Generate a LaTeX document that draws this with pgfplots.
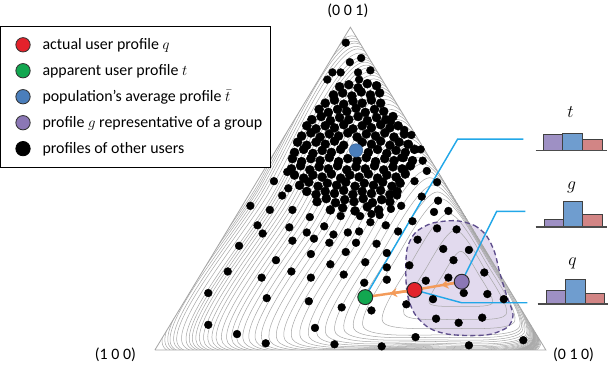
\documentclass[border=0pt]{standalone}
\usepackage{pgfplots}
\pgfplotsset{compat=1.18}
\usepackage{fontspec}
\setmainfont{Carlito}
\usetikzlibrary{arrows.meta}
\definecolor{cred}{HTML}{E3222B}
\definecolor{cgreen}{HTML}{12A750}
\definecolor{cblue}{HTML}{4A7EBB}
\definecolor{cpurple}{HTML}{8B77B5}
\definecolor{blobfill}{HTML}{E2DAEE}
\definecolor{blobline}{HTML}{5E4E8C}
\definecolor{contour}{HTML}{A8A8A8}
\definecolor{leader}{HTML}{22A7E8}
\definecolor{corange}{HTML}{F39B5A}
\definecolor{barP}{HTML}{9E90C4}
\definecolor{barB}{HTML}{6F9DCF}
\definecolor{barR}{HTML}{D28585}
\begin{document}
\begin{tikzpicture}
\begin{axis}[
  width=609pt, height=365pt, scale only axis,
  xmin=0, xmax=609, ymin=0, ymax=365, y dir=reverse,
  axis lines=none, clip=false,
  legend cell align=left,
  legend style={at={(0.0263,0.9137)}, anchor=north west, draw=black, line width=0.9pt, fill=white,
    font=\fontsize{15.5}{18}\selectfont, inner xsep=7pt, inner ysep=10pt, row sep=9pt,
    nodes={inner xsep=1pt},
    /tikz/every odd column/.append style={column sep=11pt}},
  legend image code/.code={\path (-6pt,0pt); \draw[mark repeat=2,mark phase=2,#1] plot coordinates {(0cm,0cm) (0.3cm,0cm) (0.6cm,0cm)};},
  ct/.style={draw=contour, line width=0.5pt, smooth cycle, mark=none, forget plot},
  barstyle/.style={draw=black!75, line width=0.8pt, mark=none, forget plot},
]
% legend
\addlegendimage{only marks, mark=*, mark size=7pt, mark options={fill=cred, draw=black!80, line width=0.8pt}}
\addlegendentry{actual user profile $q$}
\addlegendimage{only marks, mark=*, mark size=7pt, mark options={fill=cgreen, draw=black!80, line width=0.8pt}}
\addlegendentry{apparent user profile $t$}
\addlegendimage{only marks, mark=*, mark size=7pt, mark options={fill=cblue, draw=black!80, line width=0.8pt}}
\addlegendentry{population’s average profile $\bar{t}$}
\addlegendimage{only marks, mark=*, mark size=7pt, mark options={fill=cpurple, draw=black!80, line width=0.8pt}}
\addlegendentry{profile $g$ representative of a group}
\addlegendimage{only marks, mark=*, mark size=7pt, mark options={fill=black, draw=black, line width=0.8pt}}
\addlegendentry{profiles of other users}

% group region fill
\addplot[fill=blobfill, draw=none, smooth cycle, forget plot] coordinates {
(460,221.5) (478,226) (490,236) (498,252) (503,272) (510,295) (516,313) (511,325) (495,332) (476,333.5) (452,332) (434,326) (420,312) (413,293) (411.5,270) (413,248) (421,233) (437,224)};

% contours
\begin{scope}
\clip (axis cs:167,347.5) -- (axis cs:548,347.5) -- (axis cs:357.5,33) -- cycle;
\addplot[ct] coordinates {(434.4,301.9) (465.1,304.9) (495.8,301.9) (483.2,275.1) (465.1,251.3) (447.1,275.1)};
\addplot[ct] coordinates {(409.9,312.9) (459.6,317.7) (509.3,312.9) (488.9,269.4) (459.6,230.7) (430.4,269.4)};
\addplot[ct] coordinates {(389.2,320.2) (453.2,326.4) (517.2,320.2) (490.9,264.3) (453.2,214.5) (415.6,264.3)};
\addplot[ct] coordinates {(370.3,325.4) (446.1,332.8) (522.0,325.4) (490.8,259.2) (446.1,200.2) (401.5,259.2)};
\addplot[ct] coordinates {(361.2,327.3) (442.3,335.2) (523.4,327.3) (490.0,256.5) (442.3,193.5) (394.6,256.5)};
\addplot[ct] coordinates {(352.0,329.2) (438.4,337.6) (524.8,329.2) (489.2,253.8) (438.4,186.7) (387.6,253.8)};
\addplot[ct] coordinates {(343.1,331.0) (434.9,339.2) (526.7,331.0) (488.2,251.3) (434.9,179.6) (381.6,251.3)};
\addplot[ct] coordinates {(334.1,332.8) (431.3,340.8) (528.5,332.8) (487.2,248.7) (431.3,172.5) (375.5,248.7)};
\addplot[ct] coordinates {(325.8,334.0) (427.6,342.0) (529.5,334.0) (485.8,246.1) (427.6,166.0) (369.5,246.1)};
\addplot[ct] coordinates {(317.5,335.2) (423.9,343.2) (530.4,335.2) (484.4,243.4) (423.9,159.5) (363.5,243.4)};
\addplot[ct] coordinates {(309.3,336.1) (420.2,344.0) (531.2,336.1) (482.9,240.6) (420.2,153.0) (357.6,240.6)};
\addplot[ct] coordinates {(301.0,337.0) (416.4,344.8) (531.9,337.0) (481.3,237.8) (416.4,146.4) (351.6,237.8)};
\addplot[ct] coordinates {(293.8,337.7) (413.1,345.4) (532.6,337.7) (479.9,235.3) (413.1,140.6) (346.5,235.3)};
\addplot[ct] coordinates {(286.5,338.4) (409.8,345.9) (533.2,338.4) (478.4,232.8) (409.8,134.7) (341.3,232.8)};
\addplot[ct] coordinates {(279.3,338.9) (406.5,346.2) (533.8,338.9) (476.9,230.2) (406.5,128.8) (336.2,230.2)};
\addplot[ct] coordinates {(272.0,339.4) (403.2,346.5) (534.4,339.4) (475.3,227.5) (403.2,122.8) (331.1,227.5)};
\addplot[ct] coordinates {(265.9,339.7) (400.3,346.7) (534.6,339.7) (474.0,225.3) (400.4,118.0) (326.7,225.3)};
\addplot[ct] coordinates {(259.8,339.9) (397.3,346.9) (534.8,339.9) (472.6,223.0) (397.5,113.1) (322.3,223.0)};
\addplot[ct] coordinates {(254.0,340.1) (394.5,347.1) (535.0,340.1) (471.2,220.7) (394.7,108.2) (318.0,220.7)};
\addplot[ct] coordinates {(248.1,340.3) (391.6,347.2) (535.1,340.3) (469.7,218.4) (391.8,103.3) (313.7,218.4)};
\addplot[ct] coordinates {(243.2,340.5) (389.3,347.3) (535.3,340.5) (468.5,216.5) (389.4,99.2) (310.2,216.5)};
\addplot[ct] coordinates {(238.2,340.7) (386.9,347.3) (535.5,340.7) (467.3,214.5) (387.0,95.0) (306.6,214.5)};
\addplot[ct] coordinates {(233.2,340.9) (384.5,347.4) (535.8,340.9) (466.2,212.6) (384.7,90.9) (303.0,212.6)};
\addplot[ct] coordinates {(228.1,341.0) (382.1,347.4) (536.0,341.0) (465.0,210.7) (382.3,86.7) (299.4,210.7)};
\addplot[ct] coordinates {(224.0,341.2) (380.2,347.4) (536.3,341.2) (464.1,209.1) (380.4,83.2) (296.6,209.1)};
\addplot[ct] coordinates {(219.9,341.3) (378.3,347.4) (536.6,341.3) (463.1,207.5) (378.5,79.7) (293.7,207.5)};
\addplot[ct] coordinates {(215.8,341.6) (376.4,347.5) (536.9,341.6) (462.1,206.0) (376.6,76.2) (290.9,206.0)};
\addplot[ct] coordinates {(211.7,341.8) (374.5,347.5) (537.2,341.8) (461.1,204.4) (374.6,72.7) (288.0,204.4)};
\addplot[ct] coordinates {(208.3,342.0) (373.0,347.5) (537.6,342.0) (460.4,203.2) (373.1,69.9) (285.7,203.2)};
\addplot[ct] coordinates {(204.9,342.2) (371.4,347.5) (537.9,342.2) (459.6,201.9) (371.6,67.0) (283.4,201.9)};
\addplot[ct] coordinates {(201.9,342.4) (370.1,347.5) (538.3,342.4) (459.0,200.8) (370.3,64.4) (281.4,200.8)};
\addplot[ct] coordinates {(198.8,342.6) (368.8,347.5) (538.7,342.6) (458.3,199.7) (368.9,61.8) (279.4,199.7)};
\addplot[ct] coordinates {(194.4,342.5) (366.5,347.5) (538.5,342.5) (457.1,197.8) (366.6,58.1) (276.0,197.8)};
\addplot[ct] coordinates {(189.7,343.0) (364.6,347.5) (539.4,343.0) (456.2,196.3) (364.7,54.1) (273.1,196.3)};
\addplot[ct] coordinates {(186.7,342.9) (363.0,347.5) (539.3,342.9) (455.4,195.0) (363.2,51.6) (270.8,195.0)};
\addplot[ct] coordinates {(183.2,343.4) (361.7,347.5) (540.2,343.4) (454.8,193.9) (361.9,48.4) (268.9,193.9)};
\addplot[ct] coordinates {(181.0,343.4) (360.6,347.5) (540.1,343.4) (454.2,192.9) (360.7,46.5) (267.1,192.9)};
\addplot[ct] coordinates {(178.2,343.9) (359.6,347.5) (541.0,343.9) (453.7,192.2) (359.8,44.0) (265.7,192.2)};
\addplot[ct] coordinates {(175.4,344.4) (358.7,347.5) (541.9,344.4) (453.2,191.4) (358.8,41.4) (264.3,191.4)};
\end{scope}

% simplex outline
\addplot[draw=black!35, line width=0.8pt, mark=none, forget plot] coordinates {(167,347.5) (548,347.5) (357.5,33) (167,347.5)};

% group boundary
\addplot[draw=blobline, line width=1.3pt, dash pattern=on 5pt off 3pt, smooth cycle, mark=none, forget plot] coordinates {
(460,221.5) (478,226) (490,236) (498,252) (503,272) (510,295) (516,313) (511,325) (495,332) (476,333.5) (452,332) (434,326) (420,312) (413,293) (411.5,270) (413,248) (421,233) (437,224)};

% profiles of other users: dense cluster
\addplot[only marks, mark=*, mark size=4.4pt, black, forget plot] coordinates {
(347,91) (356,89) (365,92) (374,88) (383,90)
(341,99) (350,97) (359,100) (368,96) (377,99) (386,97)
(333,107) (342,104) (351,108) (360,105) (369,107) (378,104) (387,107)
(327,113) (336,116) (345,113) (354,115) (363,112) (372,116) (381,113) (390,115)
(320,123) (329,120) (338,124) (347,121) (356,123) (365,120) (374,124) (383,121) (392,123) (399,120)
(315,129) (324,132) (333,129) (342,131) (351,128) (360,132) (369,129) (378,131) (387,128) (396,131) (404,129)
(310,139) (319,136) (328,140) (337,137) (346,139) (355,136) (364,140) (373,137) (382,139) (391,136) (400,140) (410,137)
(306,145) (315,148) (324,145) (333,147) (342,144) (351,148) (369,145) (378,147) (387,144) (396,148) (405,145) (414,147)
(303,155) (312,152) (321,156) (330,153) (339,155) (348,152) (375,155) (384,152) (393,156) (402,153) (411,155) (420,152)
(301,161) (310,164) (319,161) (328,163) (337,160) (346,164) (355,161) (364,163) (373,160) (382,164) (391,161) (400,163) (409,160) (418,163)
(300,171) (309,168) (318,172) (327,169) (336,171) (345,168) (354,172) (363,169) (372,171) (381,168) (390,172) (399,169) (408,171) (416,168)
(303,177) (312,180) (321,177) (330,179) (339,176) (348,180) (357,177) (366,179) (375,176) (384,180) (393,177) (402,179) (411,176)
(308,187) (317,184) (326,188) (335,185) (344,187) (353,184) (362,188) (371,185) (380,187) (389,184) (398,188) (406,185)
(315,193) (324,196) (333,193) (342,195) (351,192) (360,196) (369,193) (378,195) (387,192) (396,196) (403,193)
(325,203) (334,200) (343,204) (352,201) (361,203) (370,200) (379,204) (388,201) (396,203)
(338,211) (350,209) (362,212) (374,208) (385,211)
};
% profiles of other users: scattered
\addplot[only marks, mark=*, mark size=3.8pt, black, forget plot] coordinates {
(353,48) (357,67) (368,63) (340,77) (348,77) (365,77) (377,75) (335,84) (366,84)
(283,183) (296,174) (291,197) (297,190)
(260,207) (279,211) (301,211) (318,218) (332,227) (348,217) (367,217) (378,215) (386,216) (397,210) (407,207)
(267,226) (272,234) (298,228) (315,233) (322,239) (341,235) (355,233) (366,232) (377,223) (392,226) (404,232)
(249,246) (301,241) (337,243) (363,243) (383,244) (353,252) (319,254) (285,260) (338,264) (372,262) (393,253)
(238,271) (271,277) (300,271) (319,277) (351,274) (371,282) (393,279) (393,267)
(219,292) (276,297) (317,300) (349,306) (378,309)
(219,323) (247,332) (275,341) (323,326) (342,342) (388,344) (421,335)
(397,125) (410,133) (417,138) (413,147) (426,152) (407,160) (428,163) (432,173) (410,172) (405,183) (420,183) (442,184) (403,197) (427,198) (443,202) (453,212) (439,213) (418,222)
(442,229) (461,230) (423,240) (448,249) (473,250) (415,265) (458,260) (488,272) (431,280) (453,277) (468,292) (491,293) (507,298) (412,303) (438,298) (441,317) (463,321) (486,316)
(473,343) (526,338)
};

% leader lines
\addplot[draw=leader, line width=1.4pt, mark=none, forget plot] coordinates {(373,294) (462,142) (526,142)};
\addplot[draw=leader, line width=1.4pt, mark=none, forget plot] coordinates {(466,281) (500,212.5) (528,212.5)};
\addplot[draw=leader, line width=1.4pt, mark=none, forget plot] coordinates {(420,289) (466,301.5) (530,301.5)};

% orange arrows
\addplot[draw=corange, line width=2.4pt, mark=none, forget plot] coordinates {(466,281) (420,289)};
\addplot[draw=corange, line width=2.4pt, mark=none, -{Stealth[length=7pt,width=9pt]}, forget plot] coordinates {(462,281.7) (446,284.5)};
\addplot[draw=corange, line width=2.4pt, mark=none, forget plot] coordinates {(420,289) (372,296)};
\addplot[draw=corange, line width=2.4pt, mark=none, -{Stealth[length=7pt,width=9pt]}, forget plot] coordinates {(414,290) (396,292.5)};

% special profiles
\addplot[only marks, mark=*, mark size=6.5pt, mark options={fill=cblue, draw=cblue!80!black, line width=0.5pt}, forget plot] coordinates {(363,153)};
\addplot[only marks, mark=*, mark size=7.3pt, mark options={fill=cgreen, draw=black!85, line width=0.9pt}, forget plot] coordinates {(372,296)};
\addplot[only marks, mark=*, mark size=7.3pt, mark options={fill=cred, draw=black!85, line width=0.9pt}, forget plot] coordinates {(420,289)};
\addplot[only marks, mark=*, mark size=7.3pt, mark options={fill=cpurple, draw=black!85, line width=0.9pt}, forget plot] coordinates {(466,281)};

% histograms t, g, q
\addplot[barstyle, fill=barP] coordinates {(545.7,152.7) (545.7,137.3) (564,137.3) (564,152.7)} -- cycle;
\addplot[barstyle, fill=barB] coordinates {(564,152.7) (564,136) (583.3,136) (583.3,152.7)} -- cycle;
\addplot[barstyle, fill=barR] coordinates {(583.3,152.7) (583.3,142.7) (602.7,142.7) (602.7,152.7)} -- cycle;
\addplot[draw=black!70, line width=1.1pt, mark=none, forget plot] coordinates {(538,152.7) (608,152.7)};

\addplot[barstyle, fill=barP] coordinates {(546.7,227.7) (546.7,220) (565,220) (565,227.7)} -- cycle;
\addplot[barstyle, fill=barB] coordinates {(565,227.7) (565,202.3) (584,202.3) (584,227.7)} -- cycle;
\addplot[barstyle, fill=barR] coordinates {(584,227.7) (584,215) (602.7,215) (602.7,227.7)} -- cycle;
\addplot[draw=black!70, line width=1.1pt, mark=none, forget plot] coordinates {(538,227.7) (608,227.7)};

\addplot[barstyle, fill=barP] coordinates {(548.3,302.7) (548.3,289.3) (567.3,289.3) (567.3,302.7)} -- cycle;
\addplot[barstyle, fill=barB] coordinates {(567.3,302.7) (567.3,279) (586.7,279) (586.7,302.7)} -- cycle;
\addplot[barstyle, fill=barR] coordinates {(586.7,302.7) (586.7,292.7) (605,292.7) (605,302.7)} -- cycle;
\addplot[draw=black!70, line width=1.1pt, mark=none, forget plot] coordinates {(540,302.7) (609,302.7)};

\node at (axis cs:572,116) {\fontsize{17}{17}\selectfont $t$};
\node at (axis cs:573,189) {\fontsize{17}{17}\selectfont $g$};
\node at (axis cs:574,263) {\fontsize{17}{17}\selectfont $q$};

% vertex labels
\node at (axis cs:355,16.5) {\fontsize{15.5}{18}\selectfont (0 0 1)};
\node at (axis cs:128.5,352) {\fontsize{15.5}{18}\selectfont (1 0 0)};
\node at (axis cs:575,352) {\fontsize{15.5}{18}\selectfont (0 1 0)};
\end{axis}
\end{tikzpicture}
\end{document}
